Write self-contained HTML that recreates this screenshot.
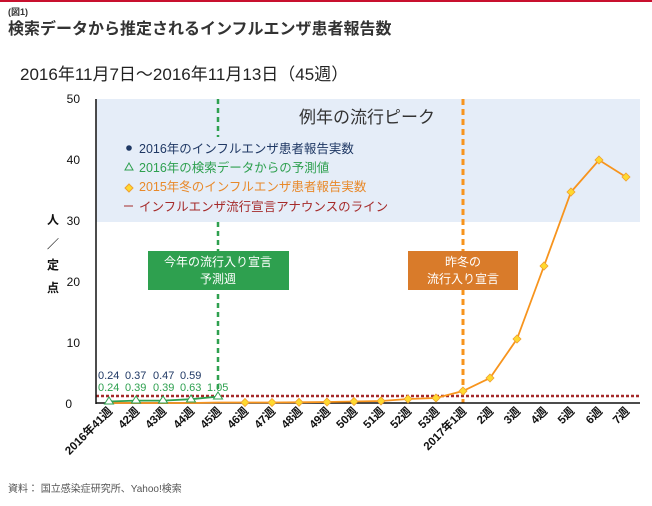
<!DOCTYPE html>
<html><head><meta charset="utf-8"><style>
html,body{margin:0;padding:0;background:#fff;}
body{width:652px;height:501px;overflow:hidden;font-family:"Liberation Sans","Noto Sans CJK JP",sans-serif;}
</style></head><body>
<svg width="652" height="501" xmlns="http://www.w3.org/2000/svg" font-family="Liberation Sans, Noto Sans CJK JP, sans-serif">
<rect x="0" y="0" width="652" height="2" fill="#c8102e"/>
<text x="8" y="15" font-size="9" font-weight="bold" fill="#333">(図1)</text>
<text x="8" y="34" font-size="16" font-weight="bold" fill="#333">検索データから推定されるインフルエンザ患者報告数</text>
<text x="20" y="80" font-size="17" fill="#222">2016年11月7日～2016年11月13日（45週）</text>
<rect x="96" y="99" width="544" height="123" fill="#e5edf8"/>
<text x="299" y="123" font-size="17" fill="#333">例年の流行ピーク</text>
<line x1="218" y1="99" x2="218" y2="137" stroke="#2ea04f" stroke-width="2.5" stroke-dasharray="5,4"/>
<line x1="218" y1="222" x2="218" y2="403" stroke="#2ea04f" stroke-width="2.5" stroke-dasharray="5,4"/>
<line x1="463" y1="99" x2="463" y2="403" stroke="#f7941d" stroke-width="3" stroke-dasharray="6,4"/>
<circle cx="129" cy="148" r="2.8" fill="#1f3864"/>
<text x="139" y="153" font-size="12.5" fill="#1f3864">2016年のインフルエンザ患者報告実数</text>
<polygon points="129,163 125,170 133,170" fill="none" stroke="#2ea04f" stroke-width="1"/>
<text x="139" y="172" font-size="12.5" fill="#2ea04f">2016年の検索データからの予測値</text>
<polygon points="129,184 133,188 129,192 125,188" fill="#ffd92f" stroke="#f0a030"/>
<text x="139" y="191" font-size="12.5" fill="#e8892a">2015年冬のインフルエンザ患者報告実数</text>
<line x1="124" y1="206" x2="133" y2="206" stroke="#a52a2a" stroke-width="1"/>
<text x="139" y="211" font-size="12.5" fill="#a52a2a">インフルエンザ流行宣言アナウンスのライン</text>
<g font-size="12" fill="#111" text-anchor="end">
<text x="80" y="103">50</text><text x="80" y="164">40</text><text x="80" y="225">30</text><text x="80" y="286">20</text><text x="80" y="347">10</text><text x="72" y="408">0</text>
</g>
<g font-size="12" font-weight="bold" fill="#111" text-anchor="middle">
<text x="53" y="224">人</text><text x="53" y="248">／</text><text x="53" y="269">定</text><text x="53" y="292">点</text>
</g>
<rect x="148" y="251" width="141" height="39" fill="#2ea04f"/>
<text x="218" y="266" font-size="12" fill="#fff" text-anchor="middle">今年の流行入り宣言</text>
<text x="218" y="283" font-size="12" fill="#fff" text-anchor="middle">予測週</text>
<rect x="408" y="251" width="110" height="39" fill="#d97b2a"/>
<text x="463" y="266" font-size="12" fill="#fff" text-anchor="middle">昨冬の</text>
<text x="463" y="283" font-size="12" fill="#fff" text-anchor="middle">流行入り宣言</text>
<line x1="96" y1="396" x2="640" y2="396" stroke="#a52a2a" stroke-width="2.5" stroke-dasharray="3,2"/>
<line x1="96" y1="99" x2="96" y2="404" stroke="#111" stroke-width="1.5"/>
<line x1="96" y1="403" x2="640" y2="403" stroke="#111" stroke-width="1.5"/>
<polyline fill="none" stroke="#f7941d" stroke-width="1.8" points="109,403 136,403 163,403 191,403 218,402.5 245,402.5 272,402.5 299,402.3 327,402 354,401.5 381,401 408,399 436,398 463,391 490,378 517,339 544,266 571,192 599,160 626,177"/>
<g fill="#ffd92f" stroke="#f0a030" stroke-width="0.8">
<polygon points="245,398.5 249,402.5 245,406.5 241,402.5"/><polygon points="272,398.5 276,402.5 272,406.5 268,402.5"/><polygon points="299,398.3 303,402.3 299,406.3 295,402.3"/><polygon points="327,398 331,402 327,406 323,402"/><polygon points="354,397.5 358,401.5 354,405.5 350,401.5"/><polygon points="381,397 385,401 381,405 377,401"/><polygon points="408,395 412,399 408,403 404,399"/><polygon points="436,394 440,398 436,402 432,398"/><polygon points="463,387 467,391 463,395 459,391"/><polygon points="490,374 494,378 490,382 486,378"/><polygon points="517,335 521,339 517,343 513,339"/><polygon points="544,262 548,266 544,270 540,266"/><polygon points="571,188 575,192 571,196 567,192"/><polygon points="599,156 603,160 599,164 595,160"/><polygon points="626,173 630,177 626,181 622,177"/>
</g>
<polyline fill="none" stroke="#2ea04f" stroke-width="1.8" points="109,401.5 136,400.6 163,400.6 191,399.2 218,396.6"/>
<g fill="#fff" stroke="#2ea04f" stroke-width="1">
<polygon points="109,397 104.5,404 113.5,404"/><polygon points="136,396 131.5,403 140.5,403"/><polygon points="163,396 158.5,403 167.5,403"/><polygon points="191,395 186.5,402 195.5,402"/><polygon points="218,392 213.5,399 222.5,399"/>
</g>
<g font-size="11" fill="#1f3864"><text x="98" y="379">0.24</text><text x="125" y="379">0.37</text><text x="153" y="379">0.47</text><text x="180" y="379">0.59</text></g>
<g font-size="11" fill="#2ea04f"><text x="98" y="391">0.24</text><text x="125" y="391">0.39</text><text x="153" y="391">0.39</text><text x="180" y="391">0.63</text><text x="207" y="391">1.05</text></g>
<g font-size="11.5" font-weight="bold" fill="#111" text-anchor="end">
<text transform="translate(113,412) rotate(-45)">2016年41週</text>
<text transform="translate(140,412) rotate(-45)">42週</text>
<text transform="translate(167,412) rotate(-45)">43週</text>
<text transform="translate(195,412) rotate(-45)">44週</text>
<text transform="translate(222,412) rotate(-45)">45週</text>
<text transform="translate(249,412) rotate(-45)">46週</text>
<text transform="translate(276,412) rotate(-45)">47週</text>
<text transform="translate(303,412) rotate(-45)">48週</text>
<text transform="translate(331,412) rotate(-45)">49週</text>
<text transform="translate(358,412) rotate(-45)">50週</text>
<text transform="translate(385,412) rotate(-45)">51週</text>
<text transform="translate(412,412) rotate(-45)">52週</text>
<text transform="translate(440,412) rotate(-45)">53週</text>
<text transform="translate(467,412) rotate(-45)">2017年1週</text>
<text transform="translate(494,412) rotate(-45)">2週</text>
<text transform="translate(521,412) rotate(-45)">3週</text>
<text transform="translate(548,412) rotate(-45)">4週</text>
<text transform="translate(575,412) rotate(-45)">5週</text>
<text transform="translate(603,412) rotate(-45)">6週</text>
<text transform="translate(630,412) rotate(-45)">7週</text>
</g>
<text x="8" y="492" font-size="10" fill="#555">資料：  国立感染症研究所、Yahoo!検索</text>
</svg>
</body></html>
